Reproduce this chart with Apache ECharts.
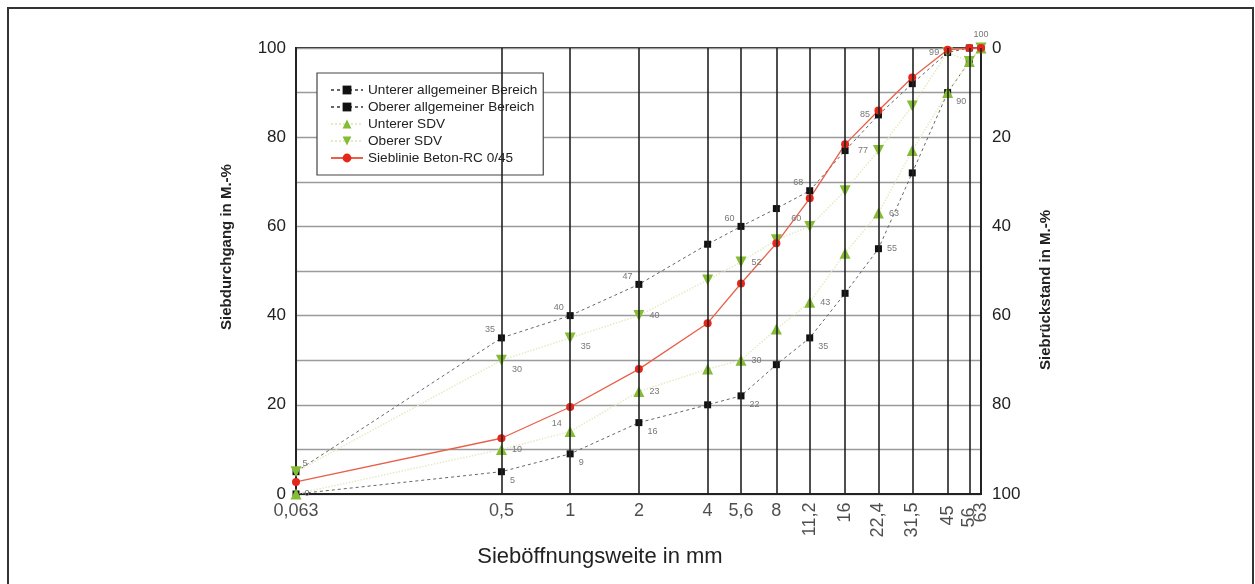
<!DOCTYPE html>
<html>
<head>
<meta charset="utf-8">
<title>Sieblinie Beton-RC 0/45</title>
<script src="https://cdn.jsdelivr.net/npm/echarts@6/dist/echarts.min.js"></script>
<style>
	html,body{margin:0;padding:0;background:#fff;}
	#chart_sieblinie{width:1255px;height:584px;}
</style>
</head>
<body>
<div id="chart_sieblinie"></div>
<script>
	//Siebweiten in mm
	var siebweiten = [0.063, 0.5, 1, 2, 4, 5.6, 8, 11.2, 16, 22.4, 31.5, 45, 56, 63];
	var siebweitenText = ['0,063','0,5','1','2','4','5,6','8','11,2','16','22,4','31,5','45','56','63'];
	var yTicks = [0, 20, 40, 60, 80, 100];
	//Siebdurchgang in M.-%
	var untererAllg = [0, 5, 9, 16, 20, 22, 29, 35, 45, 55, 72, 90, 97, 100];
	var obererAllg = [5, 35, 40, 47, 56, 60, 64, 68, 77, 85, 92, 99, 100, 100];
	var untererSDV = [0, 10, 14, 23, 28, 30, 37, 43, 54, 63, 77, 90, 97, 100];
	var obererSDV = [5, 30, 35, 40, 48, 52, 57, 60, 68, 77, 87, 99, 97, 100];
	var betonRC = [2.7, 12.5, 19.5, 28, 38.3, 47.2, 56.2, 66.3, 78.4, 86, 93.4, 99.6, 100, 100];

	var schrift = '"Liberation Sans", Arial, sans-serif';
	var gruen = '#84bc35';

	//Lage der Wertbeschriftungen
	var lagen = {
		tl: {position: 'left', offset: [2, -8]},
		tr: {position: 'right', offset: [-2, -8]},
		br: {position: 'right', offset: [0, 9]},
		r: {position: 'right'},
		l: {position: 'left'},
		t: {position: 'top'}
	};

	function punkte(werte, beschriftung){
		return werte.map(function(v, i){
			var item = {value: [siebweiten[i], v]};
			if(beschriftung && beschriftung[i]){
				item.label = Object.assign({show: true}, lagen[beschriftung[i]]);
			}
			return item;
		});
	}

	function renderSieblinie(){
		var myChart = echarts.init(document.getElementById('chart_sieblinie'), null, {renderer: 'canvas'});
		var wertLabel = {
			show: false,
			fontSize: 9,
			color: '#777',
			fontFamily: schrift,
			formatter: function(p){ return p.value[1]; }
		};
		var option = {
			animation: false,
			backgroundColor: '#fff',
			textStyle: {fontFamily: schrift, color: '#222'},
			grid: {
				left: 296, right: 274, top: 48, bottom: 90,
				show: true, borderColor: '#222', borderWidth: 2
			},
			legend: {
				orient: 'vertical',
				left: 317, top: 73,
				itemWidth: 32, itemHeight: 11, itemGap: 3,
				padding: [10, 6, 10, 13],
				backgroundColor: '#fff',
				borderColor: '#444', borderWidth: 1.2,
				textStyle: {fontSize: 13.6, color: '#222'},
				data: ['Unterer allgemeiner Bereich', 'Oberer allgemeiner Bereich', 'Unterer SDV', 'Oberer SDV', 'Sieblinie Beton-RC 0/45']
			},
			xAxis: {
				type: 'log', logBase: 10, min: 0.063, max: 63,
				axisLine: {show: true, lineStyle: {color: '#222', width: 2}},
				axisTick: {show: false},
				axisLabel: {show: false},
				splitLine: {show: false}
			},
			yAxis: [
				{
					type: 'value', min: 0, max: 100, interval: 20,
					axisLine: {show: true, lineStyle: {color: '#222', width: 2}},
					axisTick: {show: false},
					axisLabel: {fontSize: 17, color: '#222', margin: 10,
						formatter: function(v){ return yTicks.indexOf(v) >= 0 ? v : ''; }},
					splitLine: {show: true, lineStyle: {color: '#9a9a9a', width: 1.3}},
					minorTick: {show: false, splitNumber: 2},
					minorSplitLine: {show: true, lineStyle: {color: '#9a9a9a', width: 1.3}}
				},
				{
					type: 'value', min: 0, max: 100, interval: 20, inverse: true, position: 'right',
					axisLine: {show: true, lineStyle: {color: '#222', width: 2}},
					axisTick: {show: false},
					axisLabel: {fontSize: 17, color: '#222', margin: 11},
					splitLine: {show: false}
				}
			],
			graphic: [
				{type: 'rect', shape: {x: 8, y: 8, width: 1245, height: 600},
					style: {fill: 'none', stroke: '#333', lineWidth: 2}, silent: true},
				{type: 'text', x: 227, y: 247, rotation: Math.PI / 2,
					style: {text: 'Siebdurchgang in M.-%', fontSize: 15, fontWeight: 'bold', fontFamily: schrift,
						fill: '#222', align: 'center', verticalAlign: 'middle'}},
				{type: 'text', x: 1046, y: 290, rotation: Math.PI / 2,
					style: {text: 'Siebrückstand in M.-%', fontSize: 15, fontWeight: 'bold', fontFamily: schrift,
						fill: '#222', align: 'center', verticalAlign: 'middle'}},
				{type: 'text', x: 600, y: 557,
					style: {text: 'Sieböffnungsweite in mm', fontSize: 22, fontFamily: schrift,
						fill: '#222', align: 'center', verticalAlign: 'middle'}}
			],
			series: [
				//Siebweiten: senkrechte Linien und Beschriftung
				{
					name: 'Siebweiten',
					type: 'scatter',
					silent: true,
					symbolSize: 1,
					itemStyle: {color: 'rgba(0,0,0,0)'},
					z: 1,
					data: siebweiten.map(function(s, i){
						var item = {value: [s, 0]};
						if(i >= 7){
							item.label = {rotate: 90, align: 'right', verticalAlign: 'middle'};
						}
						if(i === 11){ item.label.offset = [-3, 0]; }
						if(i === 12){ item.label.offset = [-5, 0]; }
						return item;
					}),
					label: {
						show: true, position: 'bottom', distance: 8,
						fontSize: 18, color: '#222', fontFamily: schrift,
						formatter: function(p){ return siebweitenText[p.dataIndex]; }
					},
					markLine: {
						silent: true,
						symbol: 'none',
						label: {show: false},
						lineStyle: {color: '#222', width: 1.6, type: 'solid'},
						data: siebweiten.map(function(s){ return {xAxis: s}; })
					}
				},
				{
					name: 'Unterer allgemeiner Bereich',
					type: 'line',
					symbol: 'rect', symbolSize: 7,
					itemStyle: {color: '#111'},
					lineStyle: {color: '#666', width: 1, type: [3, 3]},
					label: wertLabel,
					data: punkte(untererAllg, {0: 'r', 1: 'br', 2: 'br', 3: 'br', 5: 'br', 7: 'br', 9: 'r', 11: 'br'})
				},
				{
					name: 'Oberer allgemeiner Bereich',
					type: 'line',
					symbol: 'rect', symbolSize: 7,
					itemStyle: {color: '#111'},
					lineStyle: {color: '#666', width: 1, type: [3, 3]},
					label: wertLabel,
					data: punkte(obererAllg, {0: 'tr', 1: 'tl', 2: 'tl', 3: 'tl', 5: 'tl', 7: 'tl', 9: 'l', 11: 'l', 13: 't'})
				},
				{
					name: 'Unterer SDV',
					type: 'line',
					symbol: 'triangle', symbolSize: 11,
					itemStyle: {color: gruen},
					lineStyle: {color: '#e6eac4', width: 1.5, type: 'dotted'},
					label: wertLabel,
					data: punkte(untererSDV, {1: 'r', 2: 'tl', 3: 'r', 5: 'r', 7: 'r', 9: 'r'})
				},
				{
					name: 'Oberer SDV',
					type: 'line',
					symbol: 'triangle', symbolSize: 11, symbolRotate: 180,
					itemStyle: {color: gruen},
					lineStyle: {color: '#e6eac4', width: 1.5, type: 'dotted'},
					label: wertLabel,
					data: punkte(obererSDV, {1: 'br', 2: 'br', 3: 'r', 5: 'r', 7: 'tl', 9: 'l'})
				},
				{
					name: 'Sieblinie Beton-RC 0/45',
					type: 'line',
					symbol: 'circle', symbolSize: 8,
					itemStyle: {color: '#e5261b'},
					lineStyle: {color: '#e8604a', width: 1.3},
					label: wertLabel,
					data: punkte(betonRC)
				}
			]
		};
		myChart.setOption(option);
	}

	renderSieblinie();
</script>
</body>
</html>
